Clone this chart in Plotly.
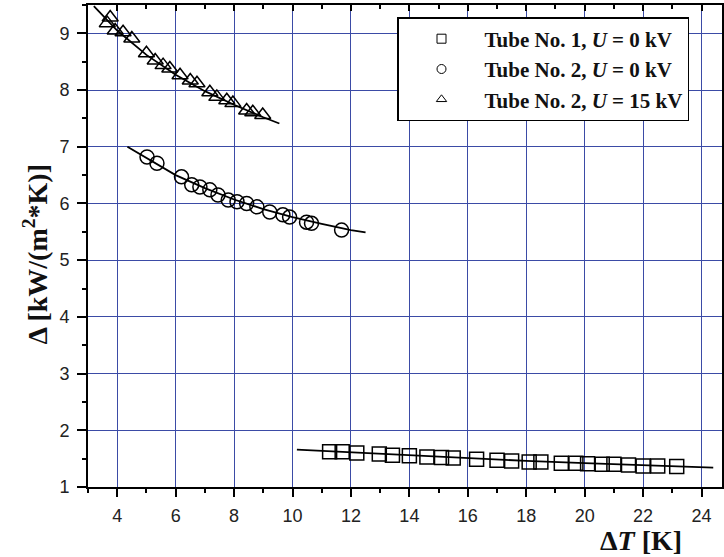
import plotly.graph_objects as go

# ---- data ----
sq_x = [11.27, 11.7, 12.2, 12.97, 13.42, 14.0, 14.6, 15.1, 15.5, 16.3, 17.0, 17.5, 18.1,
        18.5, 19.2, 19.7, 20.1, 20.6, 21.0, 21.5, 22.0, 22.5, 23.15]
sq_y = [1.62, 1.62, 1.60, 1.58, 1.56, 1.55, 1.53, 1.52, 1.51, 1.49, 1.47, 1.46, 1.44,
        1.44, 1.42, 1.42, 1.41, 1.40, 1.40, 1.39, 1.37, 1.37, 1.36]
sq_fit_x = [10.15, 12, 14, 16, 18, 20, 22, 24.4]
sq_fit_y = [1.66, 1.61, 1.56, 1.51, 1.46, 1.42, 1.38, 1.34]

ci_x = [5.02, 5.36, 6.2, 6.55, 6.83, 7.17, 7.45, 7.8, 8.1, 8.43, 8.78, 9.22, 9.67,
        9.9, 10.48, 10.65, 11.68]
ci_y = [6.82, 6.71, 6.47, 6.33, 6.29, 6.24, 6.15, 6.06, 6.03, 6.0, 5.94, 5.85, 5.8,
        5.76, 5.67, 5.65, 5.53]
ci_fit_x = [4.35, 5, 6, 7, 8, 9, 10, 11, 12, 12.5]
ci_fit_y = [7.0, 6.8, 6.5, 6.27, 6.07, 5.9, 5.76, 5.64, 5.53, 5.49]

tr_x = [3.76, 3.66, 3.93, 4.2, 4.5, 5.0, 5.3, 5.57, 5.8, 6.15, 6.5, 6.73, 7.17, 7.41,
        7.75, 7.96, 8.43, 8.64, 8.98]
tr_y = [9.28, 9.18, 9.05, 9.02, 8.91, 8.65, 8.52, 8.44, 8.38, 8.26, 8.17, 8.12, 7.96,
        7.88, 7.82, 7.77, 7.64, 7.61, 7.56]
tr_fit_x = [3.2, 4, 5, 6, 7, 8, 9, 9.55]
tr_fit_y = [9.48, 9.05, 8.62, 8.27, 7.98, 7.74, 7.52, 7.41]

names = ["<b>Tube No. 1, <i>U</i> = 0 kV</b>",
         "<b>Tube No. 2, <i>U</i> = 0 kV</b>",
         "<b>Tube No. 2, <i>U</i> = 15 kV</b>"]
x_ticks = [4, 6, 8, 10, 12, 14, 16, 18, 20, 22, 24]
y_ticks = [1, 2, 3, 4, 5, 6, 7, 8, 9]

SERIF = "Liberation Serif, Times New Roman, serif"
SANS = "Liberation Sans, Arial, sans-serif"
GRID = "#3b4ba6"

fig = go.Figure()

series = [(sq_x, sq_y, sq_fit_x, sq_fit_y, "square-open"),
          (ci_x, ci_y, ci_fit_x, ci_fit_y, "circle-open"),
          (tr_x, tr_y, tr_fit_x, tr_fit_y, "triangle-up-open")]

for (px, py, fx, fy, sym) in series:
    fig.add_trace(go.Scatter(x=fx, y=fy, mode="lines", line=dict(color="black", width=1.8),
                             showlegend=False, hoverinfo="skip"))
    fig.add_trace(go.Scatter(x=px, y=py, mode="markers",
                             marker=dict(symbol=sym, size=14, color="black",
                                         line=dict(color="black", width=1.5)),
                             showlegend=False))

for (_, _, _, _, sym), nm in zip(series, names):
    fig.add_trace(go.Scatter(x=[None], y=[None], mode="markers", name=nm,
                             marker=dict(symbol=sym, size=9, color="black",
                                         line=dict(color="black", width=1))))

# invisible trace for top axis
fig.add_trace(go.Scatter(x=[None], y=[None], xaxis="x2", showlegend=False, hoverinfo="skip"))

fig.update_layout(
    width=724, height=557,
    margin=dict(l=88, r=0, t=5, b=70),
    plot_bgcolor="white", paper_bgcolor="white",
    xaxis=dict(range=[3, 24.7], tickvals=x_ticks, ticks="outside", ticklen=8, tickwidth=1.5,
               tickcolor="black", showline=True, linecolor="black", linewidth=2,
               showgrid=True, gridcolor=GRID, gridwidth=1, zeroline=False,
               tickfont=dict(family=SANS, size=18, color="#222"), ticklabelstandoff=3,
               minor=dict(ticks="outside", ticklen=4, tickwidth=1.5, tickcolor="black",
                          dtick=1, tick0=3, showgrid=False)),
    xaxis2=dict(overlaying="x", matches="x", side="top", tickvals=x_ticks, ticks="inside",
                ticklen=6, tickwidth=1.5, tickcolor="black", showline=True, linecolor="black",
                linewidth=2, showgrid=False, showticklabels=False, zeroline=False,
                minor=dict(ticks="inside", ticklen=4, tickwidth=1.5, tickcolor="black",
                           dtick=1, tick0=3, showgrid=False)),
    yaxis=dict(range=[1, 9.5], tickvals=y_ticks, ticks="outside", ticklen=9, tickwidth=1.5,
               tickcolor="black", showline=True, linecolor="black", linewidth=2, mirror=True,
               showgrid=True, gridcolor=GRID, gridwidth=1, zeroline=False,
               tickfont=dict(family=SANS, size=18, color="#222"), ticklabelstandoff=4,
               minor=dict(ticks="outside", ticklen=4, tickwidth=1.5, tickcolor="black",
                          dtick=0.5, tick0=1, showgrid=False)),
    legend=dict(x=0.4874, y=0.975, xanchor="left", yanchor="top",
                bgcolor="white", bordercolor="black", borderwidth=1.5,
                font=dict(family=SERIF, size=21, color="#111"),
                itemwidth=76, entrywidth=330, tracegroupgap=0),
    showlegend=True,
    annotations=[
        dict(text="<b>Δ [kW/(m<sup>2</sup>*K)]</b>", xref="paper", yref="paper",
             x=-0.083, y=0.483, xanchor="center", yanchor="middle", textangle=-90,
             showarrow=False, font=dict(family=SERIF, size=28, color="#111")),
        dict(text="<b>Δ<i>T</i> [K]</b>", xref="paper", yref="paper",
             x=0.873, y=-0.11, xanchor="center", yanchor="middle",
             showarrow=False, font=dict(family=SERIF, size=28, color="#111")),
    ],
)

fig.write_html("out.html", config={"displayModeBar": False},
               post_script="document.body.style.margin='0';")
